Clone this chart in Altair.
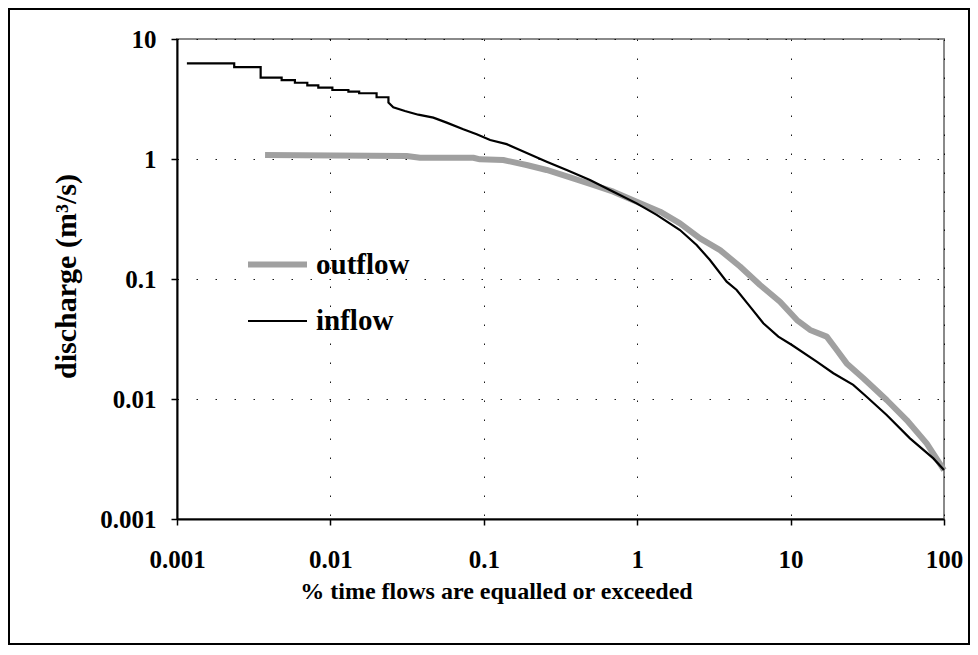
import altair as alt
import pandas as pd

# inflow flow-duration curve (% time exceeded, discharge m3/s)
inflow_x = [0.00116, 0.00236, 0.00236, 0.00351, 0.00351, 0.00481, 0.00481, 0.00587, 0.00587,
            0.00707, 0.00707, 0.00834, 0.00834, 0.0103, 0.0103, 0.0131, 0.0131, 0.0154, 0.0154,
            0.0200, 0.0200, 0.0239, 0.0239, 0.0257, 0.0306, 0.0374, 0.0469, 0.0573, 0.0735,
            0.0899, 0.110, 0.141, 0.172, 0.257, 0.347, 0.492, 0.699, 0.992, 1.34, 1.90, 2.44,
            2.98, 3.83, 4.45, 5.44, 6.64, 8.32, 10.2, 14.8, 19.0, 25.6, 31.3, 42.3, 60.0, 85.2, 100]
inflow_y = [6.27, 6.27, 5.84, 5.84, 4.76, 4.76, 4.55, 4.55, 4.32,
            4.32, 4.11, 4.11, 3.93, 3.93, 3.76, 3.76, 3.64, 3.64, 3.53,
            3.53, 3.27, 3.27, 2.95, 2.70, 2.51, 2.34, 2.21, 2.01, 1.77,
            1.61, 1.44, 1.33, 1.19, 0.950, 0.810, 0.668, 0.534, 0.427, 0.342, 0.256, 0.192,
            0.144, 0.095, 0.081, 0.0588, 0.0428, 0.0331, 0.0282, 0.0205, 0.0164, 0.0131, 0.01045,
            0.00736, 0.00470, 0.00320, 0.00256]

# outflow flow-duration curve
outflow_x = [0.00375, 0.0314, 0.0384, 0.0854, 0.0944, 0.134, 0.190, 0.257, 0.365, 0.517, 0.699,
             0.992, 1.41, 1.90, 2.57, 3.47, 4.68, 6.32, 8.53, 11.0, 13.4, 17.2, 20.0, 23.2, 29.8,
             42.3, 57.1, 77.1, 100]
outflow_y = [1.08, 1.06, 1.025, 1.025, 0.994, 0.981, 0.891, 0.810, 0.704, 0.607, 0.534,
             0.441, 0.364, 0.291, 0.218, 0.174, 0.127, 0.0891, 0.0647, 0.0455, 0.0376, 0.0331,
             0.0256, 0.0198, 0.0149, 0.00981, 0.00668, 0.00427, 0.00256]

series_names = ["outflow", "inflow"]
series_colors = ["#a0a0a0", "#000000"]
series_widths = [6, 2.2]
decades_x = [0.001, 0.01, 0.1, 1, 10, 100]
decades_y = [0.001, 0.01, 0.1, 1, 10]

df_in = pd.DataFrame({"x": inflow_x, "y": inflow_y, "series": "inflow", "i": range(len(inflow_x))})
df_out = pd.DataFrame({"x": outflow_x, "y": outflow_y, "series": "outflow", "i": range(len(outflow_x))})

FONT = "Liberation Serif"

xenc = alt.X("x:Q", scale=alt.Scale(type="log", domain=[0.001, 100], nice=False),
             axis=alt.Axis(values=decades_x, format="~g", title="% time flows are equalled or exceeded",
                           titleX=319, titleY=79, titleAlign="center", titleBaseline="alphabetic",
                           titleFontSize=24, labelPadding=22, labelFlush=False))
yenc = alt.Y("y:Q", scale=alt.Scale(type="log", domain=[0.001, 10], nice=False),
             axis=alt.Axis(values=decades_y, format="~g", title="discharge (m³/s)",
                           titleX=-102, titleY=237, titleAngle=-90, titleAlign="center",
                           titleBaseline="alphabetic", titleFontSize=30, labelPadding=15))

legend_cfg = dict(title=None, orient="none", legendX=68, legendY=193,
                  symbolType="stroke", symbolSize=3481, labelFontSize=29,
                  labelFont=FONT, labelFontWeight="bold", labelColor="black",
                  labelOffset=6, rowPadding=10, padding=0, labelLimit=300)
color = alt.Color("series:N", scale=alt.Scale(domain=series_names, range=series_colors),
                  legend=alt.Legend(**legend_cfg))
sw = alt.StrokeWidth("series:N", scale=alt.Scale(domain=series_names, range=series_widths),
                     legend=alt.Legend(**legend_cfg))

out_line = alt.Chart(df_out).mark_line(strokeJoin="round").encode(
    x=xenc, y=yenc, color=color, strokeWidth=sw, order="i:Q")
in_line = alt.Chart(df_in).mark_line(strokeJoin="miter").encode(
    x=xenc, y=yenc, color=color, strokeWidth=sw, order="i:Q")

frame = alt.Chart(pd.DataFrame({"a": [0]})).mark_rect(
    fillOpacity=0, stroke="black", strokeWidth=2).encode(
    x=alt.value(-168), x2=alt.value(792), y=alt.value(-30), y2=alt.value(605))

chart = alt.layer(frame, out_line, in_line).properties(
    width=767, height=480,
    autosize=alt.AutoSizeParams(type="none"),
    padding={"left": 169, "top": 31, "right": 26, "bottom": 127},
    background="white",
).configure_view(
    stroke="#8a8a8a", strokeWidth=2
).configure_axis(
    labelFont=FONT, labelFontWeight="bold", labelFontSize=25, labelColor="black",
    titleFont=FONT, titleFontWeight="bold", titleColor="black",
    domainColor="black", domainWidth=2, tickColor="black", tickSize=6, tickWidth=1.5,
    gridColor="black", gridDash=[1.5, 17.5], gridWidth=1, gridOpacity=0.9,
)

chart.save("out.html", embed_options={"renderer": "svg", "actions": False})
